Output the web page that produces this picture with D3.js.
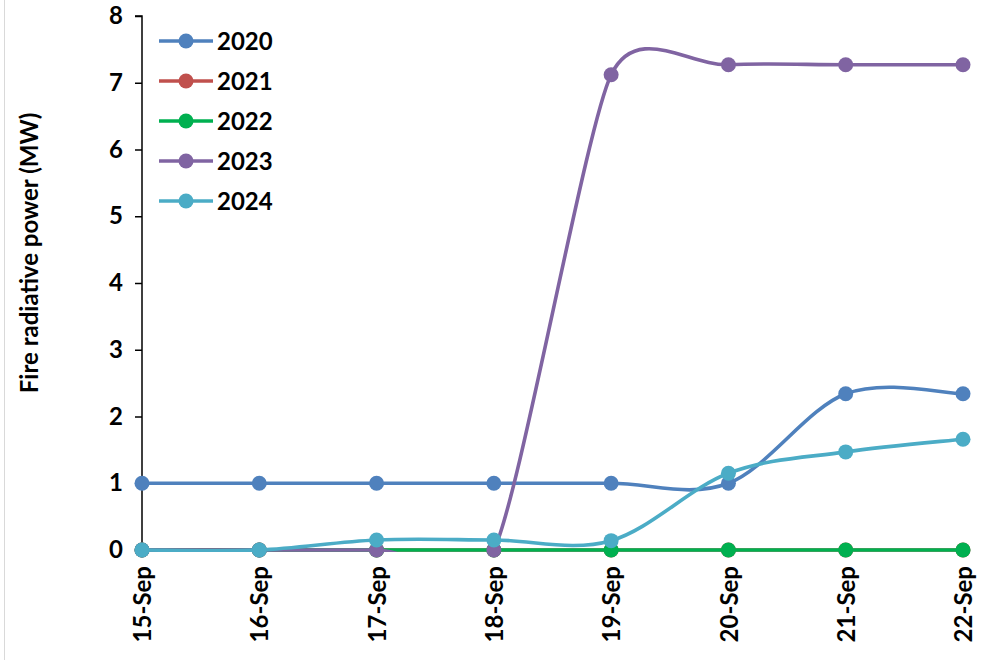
<!DOCTYPE html>
<html><head><meta charset="utf-8">
<script src="https://cdn.jsdelivr.net/npm/d3@7"></script>
<style>body{margin:0;background:#fff;} svg{display:block;} text{font-family:Lato,"Open Sans",sans-serif;}</style>
</head><body>
<svg id="c" width="985" height="660"></svg>
<script>
const categories = ["15-Sep","16-Sep","17-Sep","18-Sep","19-Sep","20-Sep","21-Sep","22-Sep"];
const seriesNames = ["2020","2021","2022","2023","2024"];
const v2020 = [1,1,1,1,1,1,2.34,2.34];
const v2021 = [0,0,0,0,0,0,0,0];
const v2022 = [0,0,0,0,0,0,0,0];
const v2023 = [0,0,0,0,7.12,7.27,7.27,7.27];
const v2024 = [0,0,0.15,0.15,0.14,1.15,1.47,1.66];
const yTicks = [0,1,2,3,4,5,6,7,8];
const colors = ["#4F81BD","#C0504D","#00B050","#8064A2","#4BACC6"];
const allValues = [v2020,v2021,v2022,v2023,v2024];
const FONT = 'Lato,"Open Sans",sans-serif';

const svg = d3.select("#c");
svg.append("rect").attr("x",4.5).attr("y",-5).attr("width",1000).attr("height",700).attr("fill","none").attr("stroke","#d9d9d9");
const x = d3.scalePoint().domain(categories).range([142,963]);
const y = d3.scaleLinear().domain([0,8]).range([550,16]);

svg.append("defs").append("clipPath").attr("id","plotclip")
  .append("rect").attr("x",x.range()[0]-10).attr("y",y(8)-10).attr("width",x.range()[1]-x.range()[0]+20).attr("height",y(0)-y(8)+12);

// y axis
const ya = svg.append("g").attr("transform","translate(142,0)")
  .call(d3.axisLeft(y).tickValues(yTicks).tickSize(7).tickPadding(12).tickFormat(d3.format("d")));
ya.attr("font-family",FONT);
ya.select(".domain").attr("stroke","#000").attr("stroke-width",1.5).attr("d","M-7,16H0V550H-7");
ya.selectAll(".tick line").attr("stroke","#000").attr("stroke-width",1.5);
ya.selectAll(".tick text").attr("font-size",24).attr("font-weight","bold").attr("fill","#000").attr("font-family",FONT);

// x axis
const xa = svg.append("g").attr("transform","translate(0,550)")
  .call(d3.axisBottom(x).tickSize(6).tickPadding(8));
xa.attr("font-family",FONT);
xa.select(".domain").attr("stroke","#000").attr("stroke-width",1.5).attr("d","M142,0H963");
xa.selectAll(".tick line").attr("stroke","#000").attr("stroke-width",1.5);
xa.selectAll(".tick text").attr("font-size",24).attr("font-weight","bold").attr("fill","#000").attr("font-family",FONT)
  .attr("transform","rotate(-90)").attr("text-anchor","end").attr("dy","0.36em").attr("x",-16).attr("y",0);

// y title
svg.append("text").attr("transform","translate(30,253) rotate(-90)").attr("text-anchor","middle")
  .attr("dy","0.35em").attr("font-size",24).attr("font-weight","bold").attr("fill","#000").attr("font-family",FONT)
  .text("Fire radiative power (MW)");

// Excel-like smoothed line: Bezier with tangents (P[i+1]-P[i-1])/6, limited to half the adjacent segment lengths
function smoothPath(pts){
  const n = pts.length;
  const dist = (a,b)=>Math.hypot(b[0]-a[0], b[1]-a[1]);
  function ctrl(i, dir){
    const p0 = pts[Math.max(i-1,0)], p1 = pts[i], p2 = pts[Math.min(i+1,n-1)];
    let tx = p2[0]-p0[0], ty = p2[1]-p0[1];
    const d02 = Math.hypot(tx,ty);
    if (d02 === 0) return p1.slice();
    let len = d02/6;
    const dAdj = dir > 0 ? dist(p1,p2) : dist(p0,p1);
    const dOther = dir > 0 ? dist(p0,p1) : dist(p1,p2);
    len = Math.min(len, dAdj/2 > 0 ? dAdj/2 : len, dOther/2 > 0 ? dOther/2 : len);
    return [p1[0] + dir*tx/d02*len, p1[1] + dir*ty/d02*len];
  }
  let d = `M${pts[0][0]},${pts[0][1]}`;
  for (let i=0;i<n-1;i++){
    const c1 = ctrl(i,1), c2 = ctrl(i+1,-1);
    d += `C${c1[0]},${c1[1]},${c2[0]},${c2[1]},${pts[i+1][0]},${pts[i+1][1]}`;
  }
  return d;
}

allValues.forEach((vals,k)=>{
  const g = svg.append("g");
  const pts = vals.map((v,i)=>[x(categories[i]), y(v)]);
  g.append("path").attr("d",smoothPath(pts)).attr("clip-path","url(#plotclip)")
    .attr("fill","none").attr("stroke",colors[k]).attr("stroke-width",3.6);
  g.selectAll("circle").data(vals).join("circle").attr("cx",(d,i)=>x(categories[i])).attr("cy",d=>y(d))
    .attr("r",7.5).attr("fill",colors[k]);
});

// legend
const lg = svg.append("g");
seriesNames.forEach((n,k)=>{
  const yy = 41 + k*40;
  lg.append("line").attr("x1",159).attr("x2",213).attr("y1",yy).attr("y2",yy).attr("stroke",colors[k]).attr("stroke-width",3.6);
  lg.append("circle").attr("cx",186).attr("cy",yy).attr("r",7.5).attr("fill",colors[k]);
  lg.append("text").attr("x",217).attr("y",yy).attr("dy","0.36em").attr("font-size",24).attr("font-weight","bold")
    .attr("fill","#000").attr("font-family",FONT).text(n);
});
</script>
</body></html>
